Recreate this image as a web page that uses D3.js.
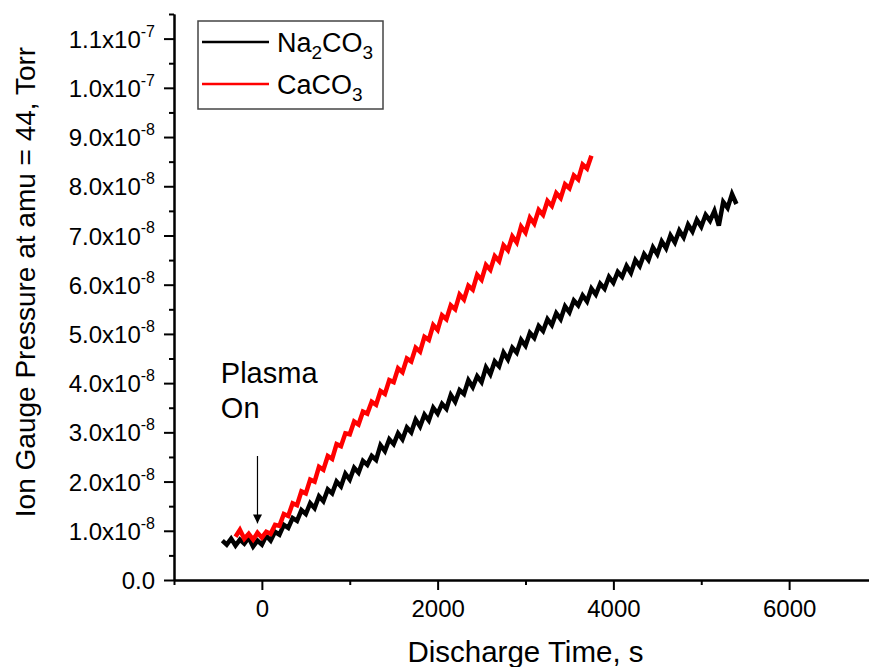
<!DOCTYPE html>
<html>
<head>
<meta charset="utf-8">
<script src="https://cdn.jsdelivr.net/npm/d3@7"></script>
<style>
  body { margin: 0; background: #fff; }
  svg text { font-family: "Liberation Sans", Arial, sans-serif; fill: #000; }
</style>
</head>
<body>
<div id="chart"></div>
<script>
// data, pressure in Torr
var seriesNames = ["Na2CO3", "CaCO3"];

var naTime = [-450,-400,-350,-300,-250,-200,-150,-100,-50,0,50,100,150,200,250,300,350,400,450,500,
  550,600,650,700,750,800,850,900,950,1000,1050,1100,1150,1200,1250,1300,1350,1400,1450,1500,
  1550,1600,1650,1700,1750,1800,1850,1900,1950,2000,2050,2100,2150,2200,2250,2300,2350,2400,2450,2500,
  2550,2600,2650,2700,2750,2800,2850,2900,2950,3000,3050,3100,3150,3200,3250,3300,3350,3400,3450,3500,
  3550,3600,3650,3700,3750,3800,3850,3900,3950,4000,4050,4100,4150,4200,4250,4300,4350,4400,4450,4500,
  4550,4600,4650,4700,4750,4800,4850,4900,4950,5000,5050,5100,5150,5200,5250,5300,5350,5400];
var naPressure = [0.80,0.72,0.84,0.70,0.82,0.74,0.86,0.68,0.80,0.72,0.90,0.80,0.98,0.92,1.12,1.06,1.26,1.20,1.42,1.34,
  1.56,1.46,1.70,1.60,1.84,1.76,2.00,1.90,2.16,2.04,2.28,2.18,2.42,2.34,2.52,2.44,2.74,2.62,2.86,2.76,
  2.98,2.86,3.10,3.00,3.26,3.12,3.36,3.24,3.50,3.38,3.58,3.48,3.76,3.62,3.86,3.78,4.06,3.92,4.14,4.02,
  4.32,4.18,4.44,4.34,4.62,4.48,4.72,4.62,4.88,4.76,5.02,4.92,5.16,5.06,5.30,5.18,5.42,5.30,5.56,5.44,
  5.68,5.58,5.78,5.66,5.92,5.80,6.02,5.92,6.16,6.04,6.26,6.16,6.38,6.24,6.50,6.38,6.62,6.50,6.76,6.62,
  6.88,6.74,7.00,6.86,7.10,6.96,7.22,7.08,7.32,7.18,7.42,7.30,7.50,7.20,7.68,7.56,7.84,7.64];

var caTime = [-300,-250,-200,-150,-100,-50,0,50,100,150,200,250,300,350,400,450,500,550,600,650,
  700,750,800,850,900,950,1000,1050,1100,1150,1200,1250,1300,1350,1400,1450,1500,1550,1600,1650,
  1700,1750,1800,1850,1900,1950,2000,2050,2100,2150,2200,2250,2300,2350,2400,2450,2500,2550,2600,2650,
  2700,2750,2800,2850,2900,2950,3000,3050,3100,3150,3200,3250,3300,3350,3400,3450,3500,3550,3600,3650,
  3700,3750];
var caPressure = [0.88,1.02,0.84,0.94,0.82,0.96,0.86,0.98,0.94,1.12,1.10,1.34,1.30,1.56,1.52,1.80,1.76,2.04,2.00,2.30,
  2.24,2.52,2.46,2.76,2.72,2.98,2.96,3.22,3.16,3.42,3.38,3.62,3.56,3.84,3.78,4.06,4.02,4.30,4.22,4.50,
  4.44,4.72,4.64,4.94,4.88,5.18,5.08,5.38,5.30,5.58,5.50,5.80,5.70,5.98,5.90,6.20,6.10,6.40,6.30,6.58,
  6.48,6.80,6.70,6.98,6.86,7.18,7.06,7.36,7.24,7.52,7.42,7.70,7.60,7.86,7.76,8.04,7.96,8.22,8.14,8.44,
  8.36,8.62]; // x1e-8

var xTicks = [0, 2000, 4000, 6000];
var xMinor = [-1000, 1000, 3000, 5000, 7000];
var yTicks = [0,1e-8,2e-8,3e-8,4e-8,5e-8,6e-8,7e-8,8e-8,9e-8,1e-7,1.1e-7];
var yTickMantissa = ["0.0","1.0","2.0","3.0","4.0","5.0","6.0","7.0","8.0","9.0","1.0","1.1"];
var yTickExp = ["","-8","-8","-8","-8","-8","-8","-8","-8","-8","-7","-7"];
var yMinor = [0.5e-8,1.5e-8,2.5e-8,3.5e-8,4.5e-8,5.5e-8,6.5e-8,7.5e-8,8.5e-8,9.5e-8,1.05e-7,1.15e-7];

var W = 869, H = 667;
var margin = {left: 174, top: 14, right: -8, bottom: 87};
var w = W - margin.left - margin.right;
var h = H - margin.top - margin.bottom;

var svg = d3.select("#chart").append("svg")
    .attr("width", W)
    .attr("height", H);

var g = svg.append("g").attr("transform", "translate(" + margin.left + "," + margin.top + ")");

var x = d3.scaleLinear().domain([-1000, 7000]).range([0, w]);
var y = d3.scaleLinear().domain([0, 1.15e-7]).range([h, 0]);

// lines
var line = d3.line()
    .x(function(d){ return x(d[0]); })
    .y(function(d){ return y(d[1] * 1e-8); });

var naData = naTime.map(function(t, i){ return [t, naPressure[i]]; });
var caData = caTime.map(function(t, i){ return [t, caPressure[i]]; });

g.append("path").datum(naData)
    .attr("d", line)
    .attr("fill", "none")
    .attr("stroke", "#000")
    .attr("stroke-width", 4.5);

g.append("path").datum(caData)
    .attr("d", line)
    .attr("fill", "none")
    .attr("stroke", "#ff0000")
    .attr("stroke-width", 4.5);

// axes
var xAxis = g.append("g")
    .attr("transform", "translate(0," + h + ")")
    .call(d3.axisBottom(x).tickValues(xTicks).tickSize(10).tickPadding(10).tickFormat(d3.format("d")).tickSizeOuter(0));
var xAxisMinor = g.append("g")
    .attr("transform", "translate(0," + h + ")")
    .call(d3.axisBottom(x).tickValues(xMinor).tickSize(5).tickFormat("").tickSizeOuter(0));

var yAxis = g.append("g")
    .call(d3.axisLeft(y).tickValues(yTicks).tickSize(10).tickPadding(8).tickFormat("").tickSizeOuter(0));
var yAxisMinor = g.append("g")
    .call(d3.axisLeft(y).tickValues(yMinor).tickSize(5).tickFormat("").tickSizeOuter(0));

svg.selectAll(".domain, .tick line").attr("stroke", "#000").attr("stroke-width", 2);
xAxis.selectAll("text").attr("font-size", 24).attr("fill", "#000");

// y tick labels with superscript
yAxis.selectAll(".tick").each(function(d, i){
    var t = d3.select(this).select("text")
        .attr("font-size", 24)
        .attr("dy", "0.36em")
        .attr("x", -19);
    t.text(null);
    t.append("tspan").text(yTickMantissa[i] + (yTickExp[i] ? "x10" : ""));
    if (yTickExp[i]) {
        t.append("tspan").attr("font-size", 16).attr("dy", "-0.7em").text(yTickExp[i]);
    }
});

// axis titles
svg.append("text")
    .attr("x", margin.left + x(3000))
    .attr("y", 662)
    .attr("text-anchor", "middle")
    .attr("font-size", 29.5)
    .text("Discharge Time, s");

svg.append("text")
    .attr("transform", "translate(35,282) rotate(-90)")
    .attr("text-anchor", "middle")
    .attr("font-size", 28)
    .text("Ion Gauge Pressure at amu = 44, Torr");

// Plasma On annotation
g.append("text").attr("x", x(-467)).attr("y", y(4.0e-8)).attr("font-size", 29).text("Plasma");
g.append("text").attr("x", x(-467)).attr("y", y(3.29e-8)).attr("font-size", 29).text("On");

svg.append("defs").append("marker")
    .attr("id", "arrow")
    .attr("viewBox", "0 0 10 10")
    .attr("refX", 10).attr("refY", 5)
    .attr("markerWidth", 9).attr("markerHeight", 9)
    .attr("markerUnits", "userSpaceOnUse")
    .attr("orient", "auto")
    .append("path").attr("d", "M0,0 L10,5 L0,10 z").attr("fill", "#000");

g.append("line")
    .attr("x1", x(-50)).attr("x2", x(-50))
    .attr("y1", y(2.52e-8)).attr("y2", y(1.15e-8))
    .attr("stroke", "#000").attr("stroke-width", 1.2)
    .attr("marker-end", "url(#arrow)");

// legend
var legend = svg.append("g").attr("transform", "translate(198,21)");
legend.append("rect")
    .attr("width", 185).attr("height", 88)
    .attr("fill", "#fff").attr("stroke", "#444").attr("stroke-width", 1.5);

var legColors = ["#000", "#ff0000"];
var legLabels = [["Na", "2", "CO", "3"], ["CaCO", "3"]];
legLabels.forEach(function(parts, i){
    var ly = 21 + i * 42;
    legend.append("line")
        .attr("x1", 4).attr("x2", 71)
        .attr("y1", ly).attr("y2", ly)
        .attr("stroke", legColors[i]).attr("stroke-width", 2.5);
    var t = legend.append("text").attr("x", 79).attr("y", ly + 10).attr("font-size", 27);
    parts.forEach(function(p, k){
        var sub = /^[0-9]$/.test(p);
        var ts = t.append("tspan").text(p);
        if (sub) ts.attr("font-size", 19).attr("dy", 7);
        else if (k > 0) ts.attr("dy", -7);
    });
});
</script>
</body>
</html>
